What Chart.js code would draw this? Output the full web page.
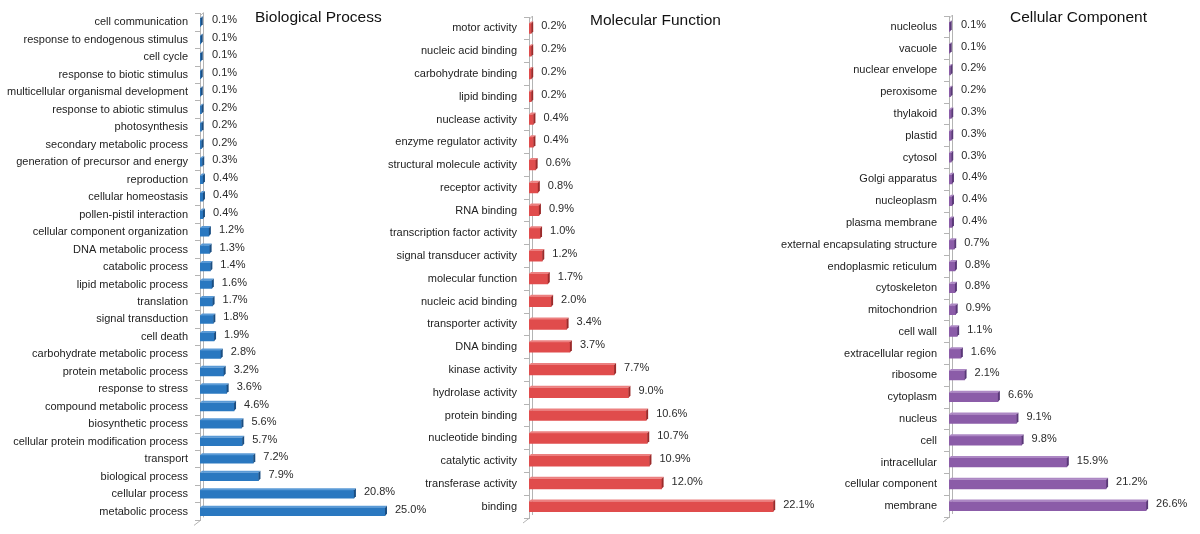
<!DOCTYPE html>
<html>
<head>
<meta charset="utf-8">
<script src="https://cdn.jsdelivr.net/npm/chart.js@4/dist/chart.umd.min.js"></script>
<style>
    html, body { margin: 0; padding: 0; background: #fff; }
    #wrap { position: relative; width: 1200px; height: 534px; overflow: hidden; }
    #wrap canvas { position: absolute; left: 0; top: 0; }
    .title { position: absolute; font-family: "Liberation Sans", Arial, sans-serif; font-size: 15.5px; color: #111; white-space: nowrap; }
</style>
</head>
<body>
<div id="wrap">
    <canvas id="bpChart" width="1200" height="534"></canvas>
    <canvas id="mfChart" width="1200" height="534"></canvas>
    <canvas id="ccChart" width="1200" height="534"></canvas>
    <div class="title" style="left:255px; top:8px;">Biological Process</div>
    <div class="title" style="left:590px; top:11px;">Molecular Function</div>
    <div class="title" style="left:1010px; top:8px;">Cellular Component</div>
</div>
<script>
// --- 데이터 (위에서 아래 순서) --- //
const bpLabels = [
    'cell communication', 'response to endogenous stimulus', 'cell cycle', 'response to biotic stimulus',
    'multicellular organismal development', 'response to abiotic stimulus', 'photosynthesis',
    'secondary metabolic process', 'generation of precursor and energy', 'reproduction',
    'cellular homeostasis', 'pollen-pistil interaction', 'cellular component organization',
    'DNA metabolic process', 'catabolic process', 'lipid metabolic process', 'translation',
    'signal transduction', 'cell death', 'carbohydrate metabolic process', 'protein metabolic process',
    'response to stress', 'compound metabolic process', 'biosynthetic process',
    'cellular protein modification process', 'transport', 'biological process', 'cellular process',
    'metabolic process'
];
const bpValues = [0.1, 0.1, 0.1, 0.1, 0.1, 0.2, 0.2, 0.2, 0.3, 0.4, 0.4, 0.4, 1.2, 1.3, 1.4, 1.6, 1.7,
    1.8, 1.9, 2.8, 3.2, 3.6, 4.6, 5.6, 5.7, 7.2, 7.9, 20.8, 25.0];

const mfLabels = [
    'motor activity', 'nucleic acid binding', 'carbohydrate binding', 'lipid binding', 'nuclease activity',
    'enzyme regulator activity', 'structural molecule activity', 'receptor activity', 'RNA binding',
    'transcription factor activity', 'signal transducer activity', 'molecular function',
    'nucleic acid binding', 'transporter activity', 'DNA binding', 'kinase activity', 'hydrolase activity',
    'protein binding', 'nucleotide binding', 'catalytic activity', 'transferase activity', 'binding'
];
const mfValues = [0.2, 0.2, 0.2, 0.2, 0.4, 0.4, 0.6, 0.8, 0.9, 1.0, 1.2, 1.7, 2.0, 3.4, 3.7, 7.7, 9.0,
    10.6, 10.7, 10.9, 12.0, 22.1];

const ccLabels = [
    'nucleolus', 'vacuole', 'nuclear envelope', 'peroxisome', 'thylakoid', 'plastid', 'cytosol',
    'Golgi apparatus', 'nucleoplasm', 'plasma membrane', 'external encapsulating structure',
    'endoplasmic reticulum', 'cytoskeleton', 'mitochondrion', 'cell wall', 'extracellular region',
    'ribosome', 'cytoplasm', 'nucleus', 'cell', 'intracellular', 'cellular component', 'membrane'
];
const ccValues = [0.1, 0.1, 0.2, 0.2, 0.3, 0.3, 0.3, 0.4, 0.4, 0.4, 0.7, 0.8, 0.8, 0.9, 1.1, 1.6, 2.1,
    6.6, 9.1, 9.8, 15.9, 21.2, 26.6];

const FONT = '"Liberation Sans", Arial, sans-serif';
const X_MAX = 30;

// 3D 막대 모양 + 값 라벨 + 축 벽
const bar3dPlugin = {
    id: 'bar3d',
    beforeDatasetsDraw(chart, args, o) {
        const ctx = chart.ctx;
        const { left, top, bottom } = chart.chartArea;
        const d = o.depth + 1;
        ctx.save();
        ctx.strokeStyle = '#b4b4b4';
        ctx.lineWidth = 1;
        ctx.beginPath();
        ctx.moveTo(left + 0.5, top + 2);
        ctx.lineTo(left + d + 0.5, top - d + 2);
        ctx.lineTo(left + d + 0.5, bottom - d);
        ctx.moveTo(left + 0.5, bottom);
        ctx.lineTo(left - 6, bottom + 5);
        ctx.stroke();
        ctx.restore();
    },
    afterDatasetsDraw(chart, args, o) {
        const ctx = chart.ctx;
        const meta = chart.getDatasetMeta(0);
        const values = chart.data.datasets[0].data;
        const d = o.depth;
        ctx.save();
        meta.data.forEach((bar, i) => {
            const { x, y, base, height } = bar.getProps(['x', 'y', 'base', 'height'], true);
            const y0 = y - height / 2;
            const y1 = y + height / 2;
            // 윗면
            ctx.fillStyle = o.topColor;
            ctx.beginPath();
            ctx.moveTo(base, y0);
            ctx.lineTo(base + d, y0 - d);
            ctx.lineTo(x + d, y0 - d);
            ctx.lineTo(x, y0);
            ctx.closePath();
            ctx.fill();
            // 옆면
            ctx.fillStyle = o.sideColor;
            ctx.beginPath();
            ctx.moveTo(x, y0);
            ctx.lineTo(x + d, y0 - d);
            ctx.lineTo(x + d, y1 - d);
            ctx.lineTo(x, y1);
            ctx.closePath();
            ctx.fill();
            // 값 라벨
            ctx.fillStyle = '#2a2a2a';
            ctx.font = '11px ' + FONT;
            ctx.textAlign = 'left';
            ctx.textBaseline = 'middle';
            const lx = Math.max(x + d, base + 4) + 8;
            ctx.fillText(values[i].toFixed(1) + '%', lx, y - 2);
        });
        ctx.restore();
    }
};

function makeChart(id, labels, values, cfg) {
    const ctx = document.getElementById(id).getContext('2d');
    return new Chart(ctx, {
        type: 'bar',
        data: {
            labels: labels,
            datasets: [{
                data: values,
                backgroundColor: cfg.color,
                borderWidth: 0,
                barThickness: cfg.barThickness
            }]
        },
        options: {
            indexAxis: 'y',
            responsive: false,
            animation: false,
            devicePixelRatio: 1,
            layout: {
                padding: {
                    left: 0,
                    top: cfg.top,
                    bottom: 534 - cfg.bottom,
                    right: 1200 - cfg.axisX - cfg.pxPerPct * X_MAX
                }
            },
            plugins: {
                legend: { display: false },
                tooltip: { enabled: false },
                bar3d: { depth: cfg.depth, topColor: cfg.topColor, sideColor: cfg.sideColor }
            },
            scales: {
                x: { display: false, min: 0, max: X_MAX },
                y: {
                    afterFit: (scale) => { scale.width = cfg.axisX; },
                    grid: { drawOnChartArea: false, drawTicks: true, tickLength: 5, color: '#b4b4b4' },
                    border: { display: true, color: '#b4b4b4' },
                    ticks: {
                        padding: 7,
                        color: '#222',
                        autoSkip: false,
                        font: { family: FONT, size: 11 }
                    }
                }
            }
        },
        plugins: [bar3dPlugin]
    });
}

makeChart('bpChart', bpLabels, bpValues, {
    axisX: 200, pxPerPct: 7.4, top: 13, bottom: 521, barThickness: 8, depth: 2,
    color: '#2a78c0', topColor: '#5a9ad6', sideColor: '#1a4e82'
});
makeChart('mfChart', mfLabels, mfValues, {
    axisX: 529, pxPerPct: 11.05, top: 17, bottom: 518, barThickness: 10, depth: 2,
    color: '#e04c4c', topColor: '#ec8080', sideColor: '#9c2a2a'
});
makeChart('ccChart', ccLabels, ccValues, {
    axisX: 949, pxPerPct: 7.41, top: 16, bottom: 517, barThickness: 9, depth: 2,
    color: '#8b5ca8', topColor: '#ad88c4', sideColor: '#5a3878'
});
</script>
</body>
</html>
